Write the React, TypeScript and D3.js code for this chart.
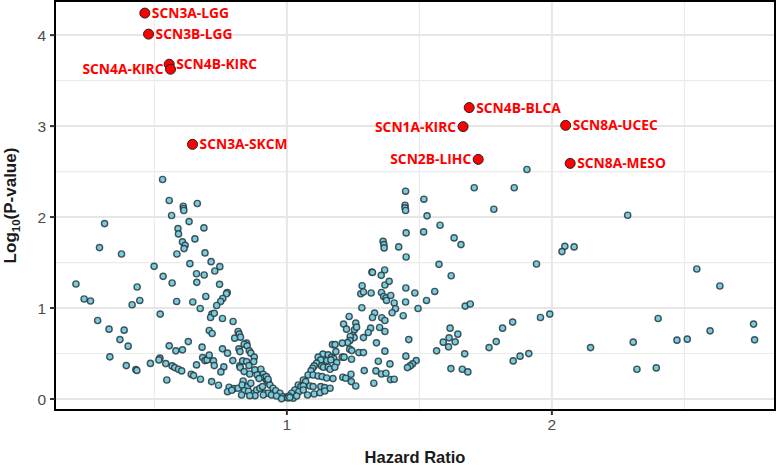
import React from "react";
import * as d3 from "d3";

// Hazard ratio (x) and -log10 P (y) for the background points
const bgHR: number[] = [
  // far left
  0.312,0.293,0.376,0.204,0.435,0.235,0.259,0.445,0.416,0.286,0.329,0.386,0.370,0.401,0.332,0.394,0.430,0.434,0.485,
  // left upper
  0.499,0.531,0.556,0.609,0.610,0.611,0.662,0.565,0.631,0.589,0.591,0.687,0.653,0.606,0.616,0.612,0.585,0.691,0.634,0.714,0.747,0.728,0.533,0.659,0.688,
  // left lower
  0.567,0.660,0.746,0.775,0.772,0.694,0.584,0.645,0.758,0.750,0.735,0.673,0.522,0.717,0.712,0.726,0.757,0.797,0.707,0.718,0.816,0.820,0.803,0.825,0.848,0.839,0.850,0.628,0.556,0.581,0.606,0.680,0.757,0.776,0.819,0.823,0.858,0.864,0.877,0.521,0.517,0.543,0.567,0.577,0.591,0.603,0.682,0.691,0.699,0.707,0.723,0.726,0.796,0.822,0.824,0.833,0.848,0.857,0.875,0.762,0.751,0.659,0.639,0.648,0.839,0.860,0.879,0.902,0.888,0.911,0.914,0.923,0.895,0.547,0.674,0.716,0.742,0.782,0.800,0.816,0.776,0.792,0.835,0.831,0.852,0.864,0.840,0.855,0.877,0.886,0.898,0.908,0.917,0.929,0.942,0.929,0.936,0.948,0.958,0.974,0.986,0.999,0.923,0.929,0.880,0.911,0.961,0.980,0.829,0.860,
  // right lower
  1.284,1.370,1.386,1.449,1.279,1.289,1.318,1.357,1.365,1.374,1.376,1.392,1.483,1.448,1.405,1.410,1.397,1.283,1.495,1.439,1.235,1.331,1.323,1.358,1.370,1.214,1.225,1.260,1.255,1.263,1.316,1.307,1.350,1.370,1.249,1.254,1.239,1.289,1.238,1.229,1.209,1.172,1.182,1.338,1.460,1.237,1.245,1.185,1.272,1.289,1.370,1.136,1.156,1.169,1.177,1.118,1.128,1.209,1.216,1.244,1.151,1.166,1.188,1.449,1.488,1.474,1.465,1.455,1.345,1.389,1.112,1.103,1.097,1.091,1.131,1.138,1.156,1.163,1.181,1.292,1.336,1.357,1.374,1.242,1.211,1.222,1.080,1.099,1.118,1.133,1.174,1.150,1.391,1.405,1.243,1.328,1.260,1.062,1.071,1.043,1.053,1.062,1.087,1.099,1.128,1.143,1.163,1.030,1.018,1.008,1.045,1.062,1.078,1.103,1.125,1.143,1.024,1.037,1.004,1.011,
  // right upper
  1.448,1.517,1.446,1.446,1.448,1.450,1.516,1.363,1.366,1.367,1.422,1.450,1.321,1.323,1.369,1.356,
  // right middle
  1.529,1.578,1.631,1.657,1.574,1.620,1.707,1.858,1.906,1.781,1.942,1.558,1.527,1.673,1.692,1.616,1.645,1.612,1.635,1.590,1.610,1.565,1.671,1.619,1.662,1.683,1.763,1.790,1.814,1.852,1.854,1.880,1.913,1.957,1.992,
  // far right
  2.049,2.084,2.038,2.286,2.547,2.634,2.146,2.307,2.321,2.394,2.401,2.472,2.511,2.597,2.761,2.765,
];
const bgLogP: number[] = [
  1.928,1.664,1.594,1.264,1.231,1.099,1.077,1.083,1.036,0.863,0.768,0.757,0.653,0.581,0.463,0.367,0.323,0.314,0.391,
  1.458,2.413,2.182,2.119,2.094,2.072,2.149,2.017,1.950,1.873,1.815,1.881,1.760,1.727,1.689,1.653,1.594,1.606,1.488,1.510,1.455,1.407,1.348,1.377,1.363,
  1.275,1.282,1.260,1.171,1.157,1.127,1.072,1.066,1.105,1.072,1.028,0.995,0.933,0.933,0.896,0.942,0.885,0.852,0.753,0.720,0.742,0.713,0.669,0.680,0.614,0.603,0.584,0.631,0.584,0.529,0.540,0.570,0.551,0.504,0.551,0.521,0.529,0.504,0.460,0.449,0.430,0.389,0.364,0.345,0.327,0.309,0.455,0.422,0.430,0.482,0.419,0.367,0.422,0.364,0.345,0.419,0.411,0.367,0.411,0.353,0.298,0.375,0.272,0.257,0.301,0.275,0.320,0.327,0.264,0.272,0.235,0.209,0.224,0.209,0.217,0.191,0.151,0.129,0.114,0.118,0.080,0.096,0.198,0.154,0.136,0.173,0.091,0.085,0.063,0.099,0.118,0.136,0.063,0.063,0.044,0.191,0.154,0.118,0.091,0.063,0.025,0.019,0.246,0.217,0.036,0.044,0.033,0.003,0.044,0.036,
  1.245,1.253,1.293,1.220,1.157,1.176,1.165,1.171,1.127,1.110,1.083,1.138,1.165,1.066,1.055,0.992,0.948,1.003,0.995,0.915,0.907,0.944,0.896,0.893,0.863,0.823,0.768,0.834,0.760,0.790,0.779,0.731,0.786,0.742,0.698,0.675,0.687,0.675,0.642,0.620,0.614,0.598,0.598,0.617,0.653,0.548,0.532,0.521,0.510,0.510,0.526,0.493,0.485,0.460,0.444,0.460,0.430,0.460,0.460,0.437,0.422,0.430,0.400,0.471,0.422,0.386,0.364,0.345,0.415,0.386,0.393,0.364,0.338,0.309,0.364,0.349,0.349,0.327,0.349,0.312,0.309,0.275,0.283,0.272,0.239,0.228,0.264,0.264,0.253,0.246,0.224,0.231,0.213,0.217,0.191,0.173,0.143,0.209,0.191,0.154,0.136,0.143,0.143,0.136,0.136,0.125,0.118,0.099,0.063,0.033,0.080,0.099,0.044,0.055,0.069,0.088,0.008,0.033,0.011,0.017,
  2.284,2.196,2.130,2.101,2.072,1.826,1.837,1.733,1.697,1.661,1.672,1.561,1.396,1.391,1.418,1.359,
  2.013,1.910,1.771,1.697,1.480,1.355,2.322,2.322,2.523,2.086,1.484,1.182,1.083,1.021,1.044,0.779,0.713,0.672,0.628,0.625,0.573,0.529,0.496,0.334,0.327,0.298,0.565,0.631,0.779,0.845,0.419,0.471,0.499,0.896,0.933,
  1.678,1.672,1.620,2.020,1.429,1.242,0.565,0.625,0.327,0.342,0.885,0.647,0.658,0.749,0.823,0.650,
];

// Highlighted genes
const hiLabels: string[] = ["SCN3A-LGG","SCN3B-LGG","SCN4B-KIRC","SCN4A-KIRC","SCN3A-SKCM","SCN4B-BLCA","SCN1A-KIRC","SCN2B-LIHC","SCN8A-UCEC","SCN8A-MESO"];
const hiHR: number[] = [0.464,0.478,0.556,0.561,0.644,1.688,1.665,1.722,2.052,2.069];
const hiLogP: number[] = [4.242,4.011,3.680,3.625,2.799,3.203,2.994,2.634,3.008,2.590];
const hiSide: string[] = ["right","right","right","left","right","right","left","left","right","right"];

const xTicks: number[] = [1, 2];
const xMinor: number[] = [0.5, 1.5, 2.5];
const yTicks: number[] = [0, 1, 2, 3, 4];
const yMinor: number[] = [0.5, 1.5, 2.5, 3.5];

const W = 777, H = 467;
const L = 55, R = 775, T = 1, B = 410;

export default function App() {
  const x = d3.scaleLinear().domain([0.125, 2.842]).range([L, R]);
  const y = d3.scaleLinear().domain([-0.121, 4.375]).range([B, T]);
  const n = Math.min(bgHR.length, bgLogP.length);
  const pts = d3.range(n).map((i) => ({ hr: bgHR[i], lp: bgLogP[i] }));
  const hi = hiLabels.map((l, i) => ({ l, hr: hiHR[i], lp: hiLogP[i], side: hiSide[i] }));
  const tickFont = "'Liberation Sans', Arial, sans-serif";
  return (
    <svg width={W} height={H} style={{ position: "absolute", left: 0, top: 0, background: "#fff" }}>
      <rect x={0} y={0} width={W} height={H} fill="#fff" />
      {/* grid */}
      {yMinor.map((v) => (
        <line key={"ym" + v} x1={L} x2={R} y1={y(v)} y2={y(v)} stroke="#ebebeb" strokeWidth={1.2} />
      ))}
      {xMinor.map((v) => (
        <line key={"xm" + v} y1={T} y2={B} x1={x(v)} x2={x(v)} stroke="#ebebeb" strokeWidth={1.2} />
      ))}
      {yTicks.map((v) => (
        <line key={"yM" + v} x1={L} x2={R} y1={y(v)} y2={y(v)} stroke="#e6e6e6" strokeWidth={2} />
      ))}
      {xTicks.map((v) => (
        <line key={"xM" + v} y1={T} y2={B} x1={x(v)} x2={x(v)} stroke="#e6e6e6" strokeWidth={2} />
      ))}
      {/* background points */}
      {pts.map((p, i) => (
        <circle key={i} cx={x(p.hr)} cy={y(p.lp)} r={3.1} fill="#7cccdf" stroke="#24393e" strokeOpacity={0.85} strokeWidth={1.4} />
      ))}
      {/* highlighted */}
      {hi.map((p, i) => (
        <circle key={"h" + i} cx={x(p.hr)} cy={y(p.lp)} r={5} fill="#ff0000" stroke="#222" strokeWidth={1} />
      ))}
      {hi.map((p, i) => (
        <text
          key={"t" + i}
          x={x(p.hr) + (p.side === "right" ? 7 : -7)}
          y={y(p.lp)}
          dy="0.36em"
          textAnchor={p.side === "right" ? "start" : "end"}
          fill="#ff0000"
          fontFamily="'Open Sans', sans-serif"
          fontWeight={700}
          fontSize={13.8}
        >
          {p.l}
        </text>
      ))}
      {/* border */}
      <rect x={L} y={T} width={R - L} height={B - T} fill="none" stroke="#000" strokeWidth={2} />
      {/* ticks */}
      {yTicks.map((v) => (
        <g key={"yt" + v}>
          <line x1={L - 5} x2={L} y1={y(v)} y2={y(v)} stroke="#333" strokeWidth={2} />
          <text x={L - 9} y={y(v)} dy="0.36em" textAnchor="end" fontFamily={tickFont} fontSize={15.5} fill="#4d4d4d">
            {v}
          </text>
        </g>
      ))}
      {xTicks.map((v) => (
        <g key={"xt" + v}>
          <line x1={x(v)} x2={x(v)} y1={B} y2={B + 5} stroke="#333" strokeWidth={2} />
          <text x={x(v)} y={B + 8} dy="0.8em" textAnchor="middle" fontFamily={tickFont} fontSize={15.5} fill="#4d4d4d">
            {v}
          </text>
        </g>
      ))}
      {/* axis titles */}
      <text x={(L + R) / 2} y={463} textAnchor="middle" fontFamily={tickFont} fontWeight={700} fontSize={16.5} fill="#1a1a1a">
        Hazard Ratio
      </text>
      <text
        transform={`translate(16,${(T + B) / 2}) rotate(-90)`}
        textAnchor="middle"
        fontFamily={tickFont}
        fontWeight={700}
        fontSize={17}
        fill="#1a1a1a"
      >
        Log<tspan fontSize={11.5} dy={4}>10</tspan>
        <tspan dy={-4}>(P-value)</tspan>
      </text>
    </svg>
  );
}
